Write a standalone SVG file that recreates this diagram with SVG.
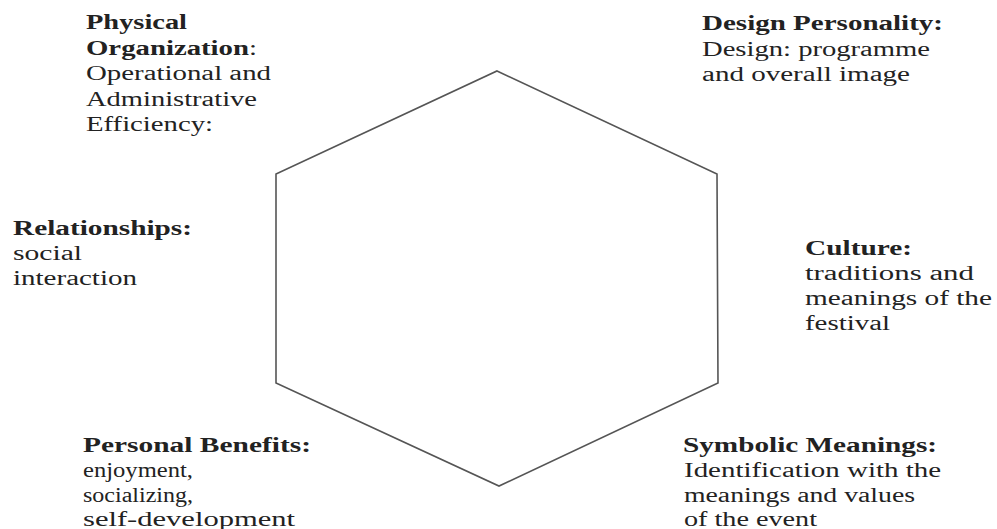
<svg xmlns="http://www.w3.org/2000/svg" width="997" height="529" viewBox="0 0 997 529">
<style>
text{font-family:"Liberation Serif","Times New Roman",serif;font-size:20px;fill:#222}
.b{font-weight:bold}
.hex{fill:none;stroke:#555;stroke-width:1.6}
</style>
<rect width="997" height="529" fill="#fff"/>
<g id="connectors">
<polygon class="hex" points="497,71 717,174 718,383 499,486 276,383 276,174"/>
</g>
<g id="physical">
<text x="86" y="29" class="b" textLength="101" lengthAdjust="spacingAndGlyphs">Physical</text>
<text x="86" y="55" textLength="171" lengthAdjust="spacingAndGlyphs"><tspan class="b">Organization</tspan>:</text>
<text x="86" y="80" textLength="185" lengthAdjust="spacingAndGlyphs">Operational and</text>
<text x="86" y="106" textLength="171" lengthAdjust="spacingAndGlyphs">Administrative</text>
<text x="86" y="131" textLength="127" lengthAdjust="spacingAndGlyphs">Efficiency:</text>
</g>
<g id="design">
<text x="702" y="30" class="b" textLength="241" lengthAdjust="spacingAndGlyphs">Design Personality:</text>
<text x="702" y="56" textLength="228" lengthAdjust="spacingAndGlyphs">Design: programme</text>
<text x="702" y="81" textLength="208" lengthAdjust="spacingAndGlyphs">and overall image</text>
</g>
<g id="relationships">
<text x="13" y="235" class="b" textLength="179" lengthAdjust="spacingAndGlyphs">Relationships:</text>
<text x="13" y="260" textLength="69" lengthAdjust="spacingAndGlyphs">social</text>
<text x="13" y="285" textLength="124" lengthAdjust="spacingAndGlyphs">interaction</text>
</g>
<g id="culture">
<text x="805" y="255" class="b" textLength="107" lengthAdjust="spacingAndGlyphs">Culture:</text>
<text x="805" y="280" textLength="169" lengthAdjust="spacingAndGlyphs">traditions and</text>
<text x="805" y="305" textLength="187" lengthAdjust="spacingAndGlyphs">meanings of the</text>
<text x="805" y="330" textLength="85" lengthAdjust="spacingAndGlyphs">festival</text>
</g>
<g id="personal">
<text x="83" y="452" class="b" textLength="228" lengthAdjust="spacingAndGlyphs">Personal Benefits:</text>
<text x="83" y="477" textLength="110" lengthAdjust="spacingAndGlyphs">enjoyment,</text>
<text x="83" y="502" textLength="110" lengthAdjust="spacingAndGlyphs">socializing,</text>
<text x="83" y="526" textLength="212" lengthAdjust="spacingAndGlyphs">self-development</text>
</g>
<g id="symbolic">
<text x="683" y="452" class="b" textLength="254" lengthAdjust="spacingAndGlyphs">Symbolic Meanings:</text>
<text x="684" y="477" textLength="257" lengthAdjust="spacingAndGlyphs">Identification with the</text>
<text x="684" y="502" textLength="231" lengthAdjust="spacingAndGlyphs">meanings and values</text>
<text x="684" y="526" textLength="133" lengthAdjust="spacingAndGlyphs">of the event</text>
</g>
</svg>
